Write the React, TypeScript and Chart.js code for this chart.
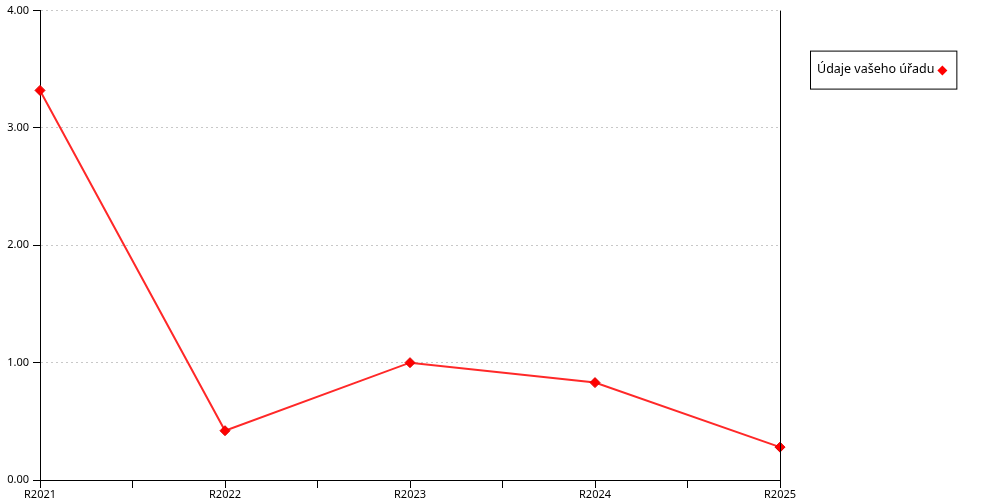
import React, { useEffect, useRef } from "react";
import { Chart, registerables } from "chart.js";

Chart.register(...registerables);

const categories = ["R2021", "R2022", "R2023", "R2024", "R2025"];
const seriesLabel = "Údaje vašeho úřadu";
const seriesValues = [3.32, 0.42, 1.0, 0.83, 0.28];
const yTicks = [0, 1, 2, 3, 4];

const FONT = "'Noto Sans', sans-serif";

const legendPlugin = {
  id: "boxLegend",
  afterDraw(chart: any) {
    const { ctx, chartArea } = chart;
    const ds = chart.data.datasets[0];
    ctx.save();
    ctx.font = `12.5px ${FONT}`;
    const text = ds.label as string;
    const tw = ctx.measureText(text).width;
    const x = chartArea.right + 30;
    const y = chartArea.top + 40;
    const w = tw + 29;
    const h = 38;
    ctx.strokeStyle = "#000";
    ctx.lineWidth = 1;
    ctx.strokeRect(x + 0.5, y + 0.5, w, h);
    ctx.fillStyle = "#000";
    ctx.textBaseline = "middle";
    ctx.fillText(text, x + 7, y + h / 2);
    const cx = x + 7 + tw + 8;
    const cy = y + h / 2 + 1;
    const r = 5;
    ctx.fillStyle = ds.pointBackgroundColor;
    ctx.beginPath();
    ctx.moveTo(cx, cy - r);
    ctx.lineTo(cx + r, cy);
    ctx.lineTo(cx, cy + r);
    ctx.lineTo(cx - r, cy);
    ctx.closePath();
    ctx.fill();
    ctx.restore();
  },
};

const rightBorderPlugin = {
  id: "rightBorder",
  afterDatasetsDraw(chart: any) {
    const { ctx, chartArea } = chart;
    ctx.save();
    ctx.strokeStyle = "#000";
    ctx.lineWidth = 1;
    ctx.beginPath();
    const x = Math.round(chartArea.right) + 0.5;
    ctx.moveTo(x, chartArea.top);
    ctx.lineTo(x, chartArea.bottom);
    ctx.stroke();
    ctx.restore();
  },
};

export default function App() {
  const ref = useRef<HTMLCanvasElement | null>(null);
  useEffect(() => {
    if (!ref.current) return;
    const chart = new Chart(ref.current, {
      type: "line",
      data: {
        datasets: [
          {
            label: seriesLabel,
            data: seriesValues.map((v, i) => ({ x: i, y: v })),
            borderColor: "rgb(255,40,40)",
            borderWidth: 2,
            pointStyle: "rectRot",
            pointRadius: 5,
            pointBackgroundColor: "#ff0000",
            pointBorderColor: "#e00000",
            pointBorderWidth: 1,
            tension: 0,
            fill: false,
            clip: false as any,
          },
        ],
      },
      options: {
        animation: false,
        responsive: false,
        layout: { padding: { top: 10, right: 220, left: 0, bottom: 0 } },
        plugins: {
          legend: { display: false },
          tooltip: { enabled: false },
        },
        scales: {
          x: {
            type: "linear",
            min: 0,
            max: categories.length - 1,
            afterBuildTicks: (scale: any) => {
              const t: any[] = [];
              for (let v = 0; v <= categories.length - 1 + 1e-9; v += 0.5) t.push({ value: v });
              scale.ticks = t;
            },
            ticks: {
              autoSkip: false,
              maxRotation: 0,
              padding: 0,
              color: "#000",
              font: { family: FONT, size: 11 },
              callback: (v: any) => (Number.isInteger(v) ? categories[v] : ""),
            },
            grid: {
              drawOnChartArea: false,
              drawTicks: true,
              tickLength: 8,
              tickColor: "#000",
            },
            border: { color: "#000", width: 1 },
            afterFit: (s: any) => {
              s.height = 20;
            },
          },
          y: {
            min: 0,
            max: 4,
            afterBuildTicks: (scale: any) => {
              scale.ticks = yTicks.map((v) => ({ value: v }));
            },
            ticks: {
              padding: 4,
              color: "#000",
              font: { family: FONT, size: 11 },
              callback: (v: any) => Number(v).toFixed(2),
            },
            grid: {
              color: "#c8c8c8",
              tickColor: "#000",
              tickLength: 7,
              tickBorderDash: [],
            },
            border: { color: "#000", width: 1, dash: [2, 3] },
            afterFit: (s: any) => {
              s.width = 40;
            },
          },
        },
      },
      plugins: [rightBorderPlugin, legendPlugin],
    });
    return () => chart.destroy();
  }, []);
  return (
    <div style={{ position: "fixed", left: 0, top: 0, width: 1000, height: 500, background: "#fff" }}>
      <canvas ref={ref} width={1000} height={500} style={{ width: 1000, height: 500 }} />
    </div>
  );
}
